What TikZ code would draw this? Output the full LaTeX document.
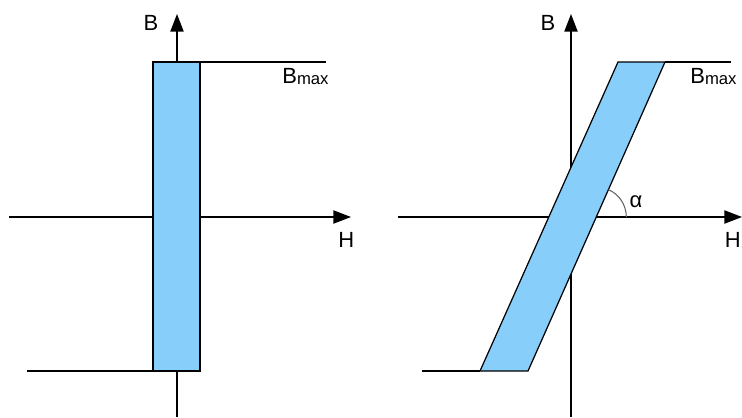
\documentclass[tikz,border=0pt]{standalone}
\usepackage{fontspec}
\setmainfont{Liberation Sans}
\usetikzlibrary{arrows.meta,positioning,calc}
\definecolor{loopblue}{RGB}{135,206,250}
\definecolor{anglegrey}{RGB}{100,100,100}

\begin{document}
\begin{tikzpicture}[x=0.02cm, y=0.02cm,
    axis/.style={-{Triangle[length=10pt,width=7.5pt]}, line width=0.75pt},
    loop/.style={draw, line width=0.7pt, fill=loopblue},
    satline/.style={line width=0.7pt},
    axlabel/.style={font=\fontsize{12.5}{14}\selectfont, inner sep=0pt},
  ]
  \useasboundingbox (0,0) rectangle (742,417);

  % Linke Kurve: rechteckige Schleife
  \coordinate (lyb) at (177,0);
  \coordinate (lyt) at (177,403);
  \coordinate (lxl) at (9,200);
  \coordinate (lxr) at (351,200);
  \coordinate (lbl) at (153,46);
  \coordinate (lbr) at (200,46);
  \coordinate (ltr) at (200,355);
  \coordinate (ltl) at (153,355);
  \coordinate (lsatt) at (326,355);
  \coordinate (lsatb) at (27,46);

  \draw[axis] (lxl) -- (lxr);
  \draw[axis] (lyb) -- (lyt);
  \draw[loop] (lbl) -- (lbr) -- (ltr) -- (ltl) -- cycle;
  \draw[satline] (ltr) -- (lsatt);
  \draw[satline] (lsatb) -- (lbl);

  \node[axlabel, anchor=base] (lB) at (151,387) {B};
  \node[axlabel, anchor=base west] (lH) at (338,170) {H};
  \node[axlabel, anchor=base west] (lBmax) at (282,334)
    {B\raisebox{-1pt}{\fontsize{9.5}{10}\selectfont max}};

  % Rechte Kurve: geneigte Schleife
  \coordinate (ryb) at (571,0);
  \coordinate (ryt) at (571,403);
  \coordinate (rxl) at (398,200);
  \coordinate (rxr) at (742,200);
  \coordinate (rbl) at (480,46);
  \coordinate (rbr) at (528,46);
  \coordinate (rtr) at (665,355);
  \coordinate (rtl) at (618,355);
  \coordinate (rsatt) at (731,355);
  \coordinate (rsatb) at (422,46);

  \draw[axis] (rxl) -- (rxr);
  \draw[axis] (ryb) -- (ryt);
  \draw[loop] (rbl) -- (rbr) -- (rtr) -- (rtl) -- cycle;
  \draw[satline] (rtr) -- (rsatt);
  \draw[satline] (rsatb) -- (rbl);

  % Winkel alpha
  \coordinate (rcut) at (intersection of rbr--rtr and rxl--rxr);
  \draw[anglegrey, line width=0.6pt] ($(rcut)+(30,0)$)
    arc[start angle=0, end angle=66, radius=30];

  \node[axlabel, anchor=base] (rB) at (548,387) {B};
  \node[axlabel, anchor=base east] (rH) at (741,170) {H};
  \node[axlabel, anchor=base west] (rBmax) at (690,334)
    {B\raisebox{-1pt}{\fontsize{9.5}{10}\selectfont max}};
  \node[axlabel, anchor=base] (ralpha) at (636,210) {α};
\end{tikzpicture}
\end{document}
